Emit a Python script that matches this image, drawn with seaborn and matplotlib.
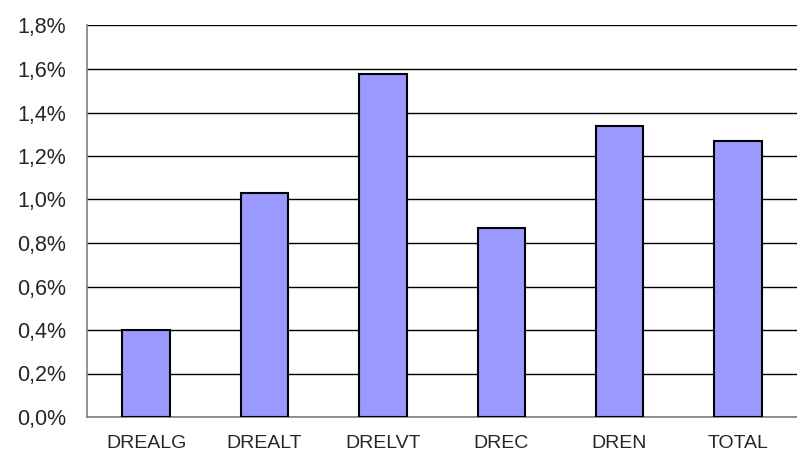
import matplotlib
matplotlib.use("Agg")
import matplotlib.pyplot as plt
import seaborn as sns
import pandas as pd
from matplotlib.ticker import FuncFormatter

categories = ["DREALG", "DREALT", "DRELVT", "DREC", "DREN", "TOTAL"]
values = [0.40, 1.03, 1.575, 0.87, 1.34, 1.27]
yticks = [0.0, 0.2, 0.4, 0.6, 0.8, 1.0, 1.2, 1.4, 1.6, 1.8]

sns.set_style("white")
plt.rcParams['font.family'] = ['Liberation Sans', 'DejaVu Sans']

df = pd.DataFrame({"cat": categories, "val": values})
fig = plt.figure(figsize=(7.97, 4.55), dpi=100)
W, H = 797, 455
left, right, top, bottom = 87, 797, 25.5, 417
ax = fig.add_axes([left / W, 1 - bottom / H, (right - left) / W, (bottom - top) / H])

sns.barplot(data=df, x="cat", y="val", ax=ax, color="#9999FF", saturation=1,
            width=0.4, edgecolor="black", linewidth=1.5, zorder=3)

ax.set_ylim(0, 1.8)
ax.set_xlim(-0.5, 5.5 - 10 / 120)
ax.set_yticks(yticks)
ax.yaxis.set_major_formatter(FuncFormatter(lambda v, p: f"{v:.1f}%".replace(".", ",")))
ax.set_xticks([i + 0.5 for i in range(-1, 6)], minor=False)
ax.set_xticks(range(6), minor=True)
ax.set_xticklabels([""] * 7)
ax.set_xticklabels(categories, minor=True)
ax.tick_params(axis="x", which="major", length=4, direction="in", color="#808080", width=1)
ax.tick_params(axis="x", which="minor", length=0, pad=13, labelsize=14)
ax.tick_params(axis="y", length=6, direction="out", color="#808080", width=1, labelsize=15.5, pad=9)
ax.set_xlabel("")
ax.set_ylabel("")
ax.grid(axis="y", color="black", linewidth=1, zorder=0)
ax.set_axisbelow(True)
for s in ["top", "right"]:
    ax.spines[s].set_visible(False)
for s in ["left", "bottom"]:
    ax.spines[s].set_color("#808080")
    ax.spines[s].set_linewidth(1.2)

fig.savefig("out.png", dpi=100)
